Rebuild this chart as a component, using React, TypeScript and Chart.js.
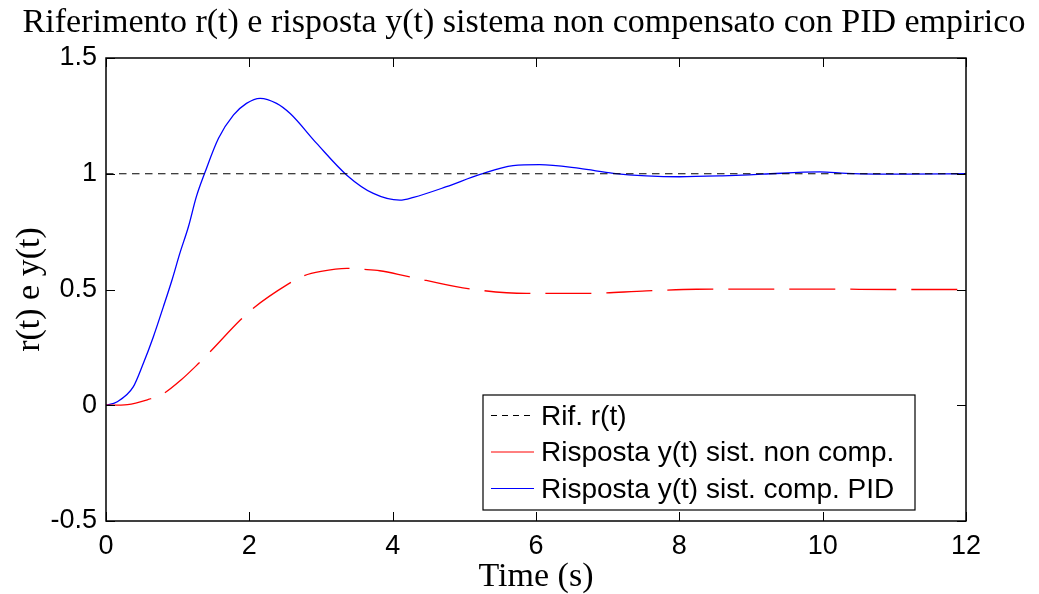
import React, { useEffect, useRef } from "react";
import { Chart, registerables } from "chart.js";

Chart.register(...registerables);

const titleText = "Riferimento r(t) e risposta y(t) sistema non compensato con PID empirico";
const xLabel = "Time (s)";
const yLabel = "r(t) e y(t)";
const xTicks = [0, 2, 4, 6, 8, 10, 12];
const yTicks = [-0.5, 0, 0.5, 1, 1.5];
const legendLabels = ["Rif. r(t)", "Risposta y(t) sist. non comp.", "Risposta y(t) sist. comp. PID"];

const refT = [0, 12];
const refY = [1, 1];

const redT = [0, 0.3, 0.59, 0.8, 1.05, 1.29, 1.45, 1.87, 2.05, 2.54, 2.75, 3.0, 3.36, 3.59, 3.82, 4.19, 4.98, 5.87, 6.7, 7.54, 8.24, 9, 10, 11, 12];
const redY = [0, 0.003, 0.025, 0.05, 0.11, 0.18, 0.23, 0.367, 0.418, 0.523, 0.558, 0.578, 0.591, 0.587, 0.581, 0.558, 0.507, 0.483, 0.483, 0.494, 0.501, 0.502, 0.502, 0.5, 0.5];

const blueT = [0, 0.15, 0.38, 0.52, 0.66, 0.8, 0.92, 1.03, 1.15, 1.26, 1.38, 1.57, 1.78, 1.96, 2.15, 2.38, 2.57, 2.94, 3.36, 3.73, 4.1, 4.29, 4.75, 5.22, 5.68, 6.05, 6.61, 7.08, 7.54, 8.0, 8.6, 9.16, 9.96, 10.33, 11.17, 12];
const blueY = [0, 0.014, 0.079, 0.18, 0.295, 0.425, 0.54, 0.656, 0.771, 0.9, 1.005, 1.153, 1.254, 1.304, 1.326, 1.304, 1.26, 1.131, 0.994, 0.915, 0.886, 0.898, 0.944, 0.997, 1.035, 1.039, 1.023, 1.002, 0.991, 0.987, 0.991, 0.998, 1.008, 1.002, 0.998, 1.0];

const toXY = (t: number[], y: number[]) => t.map((v, i) => ({ x: v, y: y[i] }));

const SANS = "'Liberation Sans', Arial, sans-serif";
const SERIF = "'Liberation Serif', 'Times New Roman', serif";

const decor = {
  id: "decor",
  afterDatasetsDraw(chart: any) {
    const { ctx, chartArea, scales } = chart;
    const { left, right, top, bottom } = chartArea;
    const xs = scales.x;
    const ys = scales.y;
    ctx.save();
    // ticks (inward, all four sides)
    ctx.strokeStyle = "#000";
    ctx.lineWidth = 1;
    const tl = 9;
    ctx.beginPath();
    xTicks.forEach((v) => {
      const px = Math.round(xs.getPixelForValue(v)) + 0.5;
      ctx.moveTo(px, bottom);
      ctx.lineTo(px, bottom - tl);
      ctx.moveTo(px, top);
      ctx.lineTo(px, top + tl);
    });
    yTicks.forEach((v) => {
      const py = Math.round(ys.getPixelForValue(v)) + 0.5;
      ctx.moveTo(left, py);
      ctx.lineTo(left + tl, py);
      ctx.moveTo(right, py);
      ctx.lineTo(right - tl, py);
    });
    ctx.stroke();
    // frame
    ctx.lineWidth = 1.5;
    ctx.strokeRect(left, top, right - left, bottom - top);

    // legend
    const bx = right - 483;
    const bw = 432;
    const by = bottom - 126;
    const bh = 115;
    ctx.fillStyle = "#fff";
    ctx.fillRect(bx, by, bw, bh);
    ctx.lineWidth = 1.2;
    ctx.strokeStyle = "#000";
    ctx.strokeRect(bx, by, bw, bh);
    const rows = [by + 20, by + 56.5, by + 93];
    const styles = [
      { color: "#000", dash: [6, 5] },
      { color: "#ff0000", dash: [] },
      { color: "#0000ff", dash: [] },
    ];
    ctx.font = `28px ${SANS}`;
    ctx.textBaseline = "middle";
    ctx.textAlign = "left";
    rows.forEach((ry, i) => {
      ctx.beginPath();
      ctx.setLineDash(styles[i].dash);
      ctx.strokeStyle = styles[i].color;
      ctx.lineWidth = 1;
      ctx.moveTo(bx + 8, ry + 0.5);
      ctx.lineTo(bx + 51, ry + 0.5);
      ctx.stroke();
      ctx.setLineDash([]);
      ctx.fillStyle = "#000";
      ctx.fillText(legendLabels[i], bx + 58, ry + 2);
    });

    // title
    ctx.font = `34px ${SERIF}`;
    ctx.textAlign = "center";
    ctx.textBaseline = "middle";
    ctx.fillStyle = "#000";
    ctx.fillText(titleText, 524, 23);
    ctx.restore();
  },
};

export default function App() {
  const ref = useRef<HTMLCanvasElement | null>(null);
  useEffect(() => {
    if (!ref.current) return;
    const chart = new Chart(ref.current, {
      type: "line",
      data: {
        datasets: [
          {
            label: legendLabels[0],
            data: toXY(refT, refY),
            borderColor: "#000",
            borderWidth: 1,
            borderDash: [7.5, 5.5],
            pointRadius: 0,
            tension: 0,
          },
          {
            label: legendLabels[1],
            data: toXY(redT, redY),
            borderColor: "#ff0000",
            borderWidth: 1.3,
            borderDash: [46, 15],
            pointRadius: 0,
            cubicInterpolationMode: "monotone",
          },
          {
            label: legendLabels[2],
            data: toXY(blueT, blueY),
            borderColor: "#0000ff",
            borderWidth: 1.3,
            pointRadius: 0,
            cubicInterpolationMode: "monotone",
          },
        ],
      },
      options: {
        animation: false,
        responsive: true,
        maintainAspectRatio: false,
        layout: { padding: { top: 58, right: 73, left: 0, bottom: 0 } },
        plugins: {
          legend: { display: false },
          title: { display: false },
          tooltip: { enabled: false },
        },
        scales: {
          x: {
            type: "linear",
            min: 0,
            max: 12,
            afterFit: (s: any) => {
              s.height = 73;
            },
            afterBuildTicks: (s: any) => {
              s.ticks = xTicks.map((v) => ({ value: v }));
            },
            grid: { display: false, drawTicks: false },
            border: { display: false },
            ticks: {
              padding: 9,
              color: "#000",
              font: { family: SANS, size: 27 },
              maxRotation: 0,
            },
            title: {
              display: true,
              text: xLabel,
              color: "#000",
              font: { family: SERIF, size: 34, lineHeight: 1 },
              padding: { top: 0, bottom: 0 },
            },
          },
          y: {
            type: "linear",
            min: -0.5,
            max: 1.5,
            afterFit: (s: any) => {
              s.width = 106;
            },
            afterBuildTicks: (s: any) => {
              s.ticks = yTicks.map((v) => ({ value: v }));
            },
            grid: { display: false, drawTicks: false },
            border: { display: false },
            ticks: {
              padding: 9,
              color: "#000",
              font: { family: SANS, size: 27 },
              callback: (v: any) => String(v),
            },
            title: {
              display: true,
              text: yLabel,
              color: "#000",
              font: { family: SERIF, size: 34, lineHeight: 1 },
              padding: { top: 13, bottom: 0 },
            },
          },
        },
      },
      plugins: [decor],
    });
    return () => chart.destroy();
  }, []);
  return (
    <div style={{ position: "fixed", left: 0, top: 0, width: 1039, height: 594, background: "#fff" }}>
      <canvas ref={ref} />
    </div>
  );
}
